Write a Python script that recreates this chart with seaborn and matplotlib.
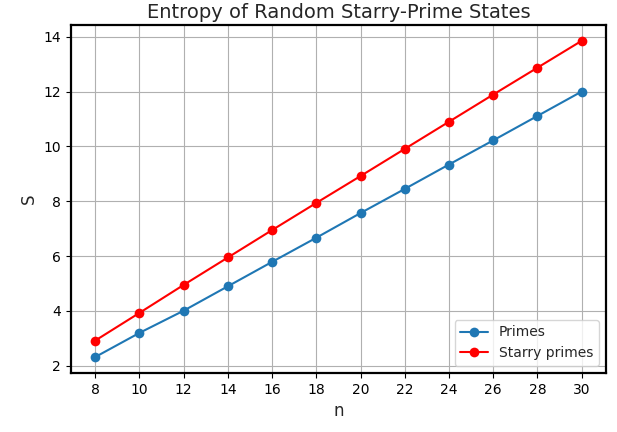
import numpy as np
import pandas as pd
import seaborn as sns
import matplotlib
matplotlib.use("Agg")
import matplotlib.pyplot as plt

n_values = [8, 10, 12, 14, 16, 18, 20, 22, 24, 26, 28, 30]
primes_entropy = [2.32, 3.2, 4.01, 4.9, 5.79, 6.67, 7.57, 8.45, 9.34, 10.22, 11.11, 12.0]
starry_entropy = [2.92, 3.93, 4.95, 5.95, 6.95, 7.94, 8.92, 9.91, 10.9, 11.89, 12.87, 13.85]

sns.set_style("ticks")
plt.rcParams['font.family'] = ['DejaVu Sans']

df = pd.DataFrame({
    'n': n_values * 2,
    'S': primes_entropy + starry_entropy,
    'series': ['Primes'] * len(n_values) + ['Starry primes'] * len(n_values),
})

fig, ax = plt.subplots(figsize=(6.17, 4.32), dpi=100)
sns.lineplot(data=df, x='n', y='S', hue='series', marker='o', markersize=7,
             markeredgewidth=0, linewidth=1.5,
             palette={'Primes': '#1f77b4', 'Starry primes': 'red'}, ax=ax)

ax.set_xticks(n_values)
ax.grid(True, color='#b0b0b0', linewidth=0.8)
for s in ax.spines.values():
    s.set_visible(True)
    s.set_color('black')
    s.set_linewidth(1.6)
ax.tick_params(colors='black', labelsize=10, direction='out', length=3.5)
ax.set_title('Entropy of Random Starry-Prime States', fontsize=14, pad=5)
ax.set_xlabel('n', fontsize=12)
ax.set_ylabel('S', fontsize=12)
ax.legend(loc='lower right', fontsize=10, title=None)

fig.subplots_adjust(left=0.115, right=0.982, top=0.942, bottom=0.137)
fig.savefig('out.png', dpi=100)
